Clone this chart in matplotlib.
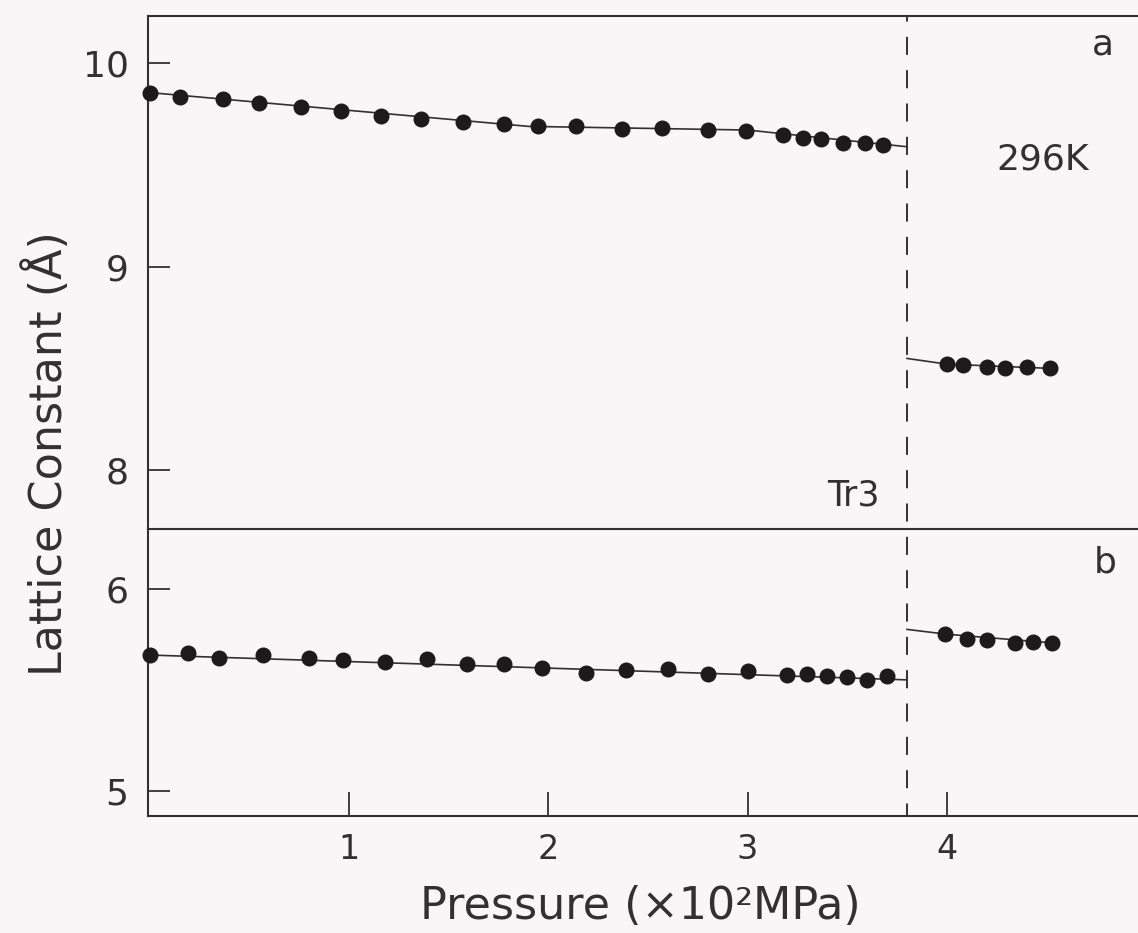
import matplotlib
matplotlib.use("Agg")
import matplotlib.pyplot as plt
from matplotlib.transforms import blended_transform_factory

# ---------------- data ----------------
# panel a : lattice constant a (Å) vs pressure (x10^2 MPa)
p_a_low = [0.0, 0.15, 0.37, 0.55, 0.76, 0.96, 1.16, 1.36, 1.57, 1.78, 1.95,
           2.14, 2.37, 2.57, 2.80, 2.99, 3.18, 3.28, 3.37, 3.48, 3.59, 3.68]
a_low = [9.856, 9.833, 9.823, 9.803, 9.787, 9.767, 9.741, 9.726, 9.710, 9.700, 9.693,
         9.690, 9.677, 9.681, 9.674, 9.669, 9.648, 9.631, 9.629, 9.610, 9.607, 9.599]
p_a_high = [4.00, 4.08, 4.20, 4.29, 4.40, 4.52]
a_high = [8.522, 8.517, 8.509, 8.504, 8.509, 8.501]

# guide lines drawn through panel a
p_a_fit_low = [0.0, 1.9, 3.0, 3.8]
a_fit_low = [9.856, 9.690, 9.672, 9.590]
p_a_fit_high = [3.8, 4.0, 4.52]
a_fit_high = [8.550, 8.522, 8.501]

# panel b : lattice constant b (Å)
p_b_low = [0.0, 0.19, 0.35, 0.57, 0.80, 0.97, 1.18, 1.39, 1.59, 1.78, 1.97,
           2.19, 2.39, 2.60, 2.80, 3.00, 3.20, 3.30, 3.40, 3.50, 3.60, 3.70]
b_low = [5.673, 5.685, 5.660, 5.673, 5.660, 5.649, 5.640, 5.652, 5.629, 5.627, 5.607,
         5.583, 5.599, 5.604, 5.579, 5.596, 5.574, 5.579, 5.569, 5.563, 5.550, 5.569]
p_b_high = [3.99, 4.10, 4.20, 4.34, 4.43, 4.53]
b_high = [5.776, 5.751, 5.748, 5.731, 5.739, 5.731]

p_b_fit_low = [0.0, 3.8]
b_fit_low = [5.673, 5.550]
p_b_fit_high = [3.8, 4.0, 4.53]
b_fit_high = [5.800, 5.776, 5.733]

p_transition = 3.8
x_ticks = [1, 2, 3, 4]
ya_ticks = [8, 9, 10]
yb_ticks = [5, 6]

# ---------------- style ----------------
bg = "#f8f6f6"
ink = "#333031"
dot = "#1d1a1c"
plt.rcParams["font.family"] = ["DejaVu Sans"]
plt.rcParams["lines.scale_dashes"] = False

fig = plt.figure(figsize=(11.38, 9.33), dpi=100, facecolor=bg)
L, W = 0.1301, 0.870
ax1 = fig.add_axes([L, 0.4330, W, 0.5498], facecolor=bg)
ax2 = fig.add_axes([L, 0.1254, W, 0.3076], facecolor=bg, sharex=ax1)

for ax in (ax1, ax2):
    for s in ax.spines.values():
        s.set_color(ink)
        s.set_linewidth(1.5)
    ax.spines["right"].set_visible(False)
    ax.tick_params(axis="y", direction="in", length=16, width=1.3, colors=ink,
                   labelsize=26, pad=14)
ax1.spines["bottom"].set_visible(False)

ax1.set_xlim(-0.0085, 4.96)
ax1.set_ylim(7.712, 10.232)
ax2.set_ylim(4.876, 6.297)
ax1.set_yticks(ya_ticks)
ax2.set_yticks(yb_ticks)
ax2.set_xticks(x_ticks)
ax2.set_xticklabels([str(t) for t in x_ticks])
ax1.tick_params(axis="x", bottom=False, labelbottom=False)
ax2.tick_params(axis="x", direction="in", length=17, width=1.3, colors=ink,
                labelsize=24, pad=12)

mk = dict(marker="o", ls="none", ms=10.5, color=dot, clip_on=False, zorder=3)
ln = dict(color=ink, lw=1.2, zorder=2)

ax1.plot(p_a_fit_low, a_fit_low, **ln)
ax1.plot(p_a_fit_high, a_fit_high, **ln)
ax1.plot(p_a_low, a_low, **mk)
ax1.plot(p_a_high, a_high, **mk)

ax2.plot(p_b_fit_low, b_fit_low, **ln)
ax2.plot(p_b_fit_high, b_fit_high, **ln)
ax2.plot(p_b_low, b_low, **mk)
ax2.plot(p_b_high, b_high, **mk)

# dashed transition line spanning both panels
top_in_ax2 = (0.4330 + 0.5498 - 0.1254) / 0.3076
tr = blended_transform_factory(ax2.transData, ax2.transAxes)
ax2.plot([p_transition, p_transition], [0, top_in_ax2], transform=tr,
         color=ink, lw=1.4, ls=(4, (13, 11)), clip_on=False, zorder=1)

# annotations
ax1.text(0.964, 0.945, "a", transform=ax1.transAxes, fontsize=26, color=ink,
         ha="center", va="center")
ax1.text(0.904, 0.721, "296K", transform=ax1.transAxes, fontsize=26, color=ink,
         ha="center", va="center")
ax1.text(0.739, 0.066, "Tr3", transform=ax1.transAxes, fontsize=25, color=ink,
         ha="right", va="center")
ax2.text(0.967, 0.885, "b", transform=ax2.transAxes, fontsize=26, color=ink,
         ha="center", va="center")

fig.text(0.041, 0.514, "Lattice Constant (Å)", rotation=90, fontsize=32,
         color=ink, ha="center", va="center")
fig.text(0.563, 0.028, "Pressure (×10²MPa)", fontsize=32, color=ink,
         ha="center", va="center")

fig.savefig("out.png", dpi=100, facecolor=bg)
